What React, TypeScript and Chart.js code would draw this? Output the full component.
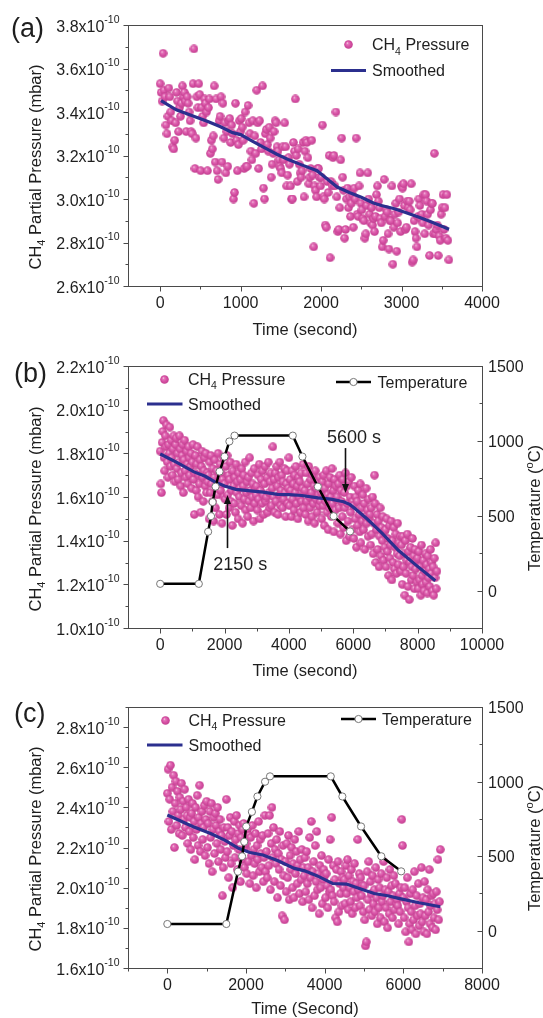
import React, { useEffect, useRef } from "react";
import { Chart, registerables } from "chart.js";

Chart.register(...registerables);

const FONT = '"Liberation Sans", Arial, Helvetica, sans-serif';
const AXIS_COLOR = "#4a4a4a";
const TEXT_COLOR = "#1e1e1e";
const NAVY = "#2b2f8e";

// ---------------- Panel (a) ----------------
const timeStepA = 12; // s between CH4 samples
// CH4 partial pressure, in units of 1e-12 mbar
const pressureA = [
  353, 349, 345, 367, 350, 347, 334, 330, 338, 351, 347, 340, 336, 324, 323, 327, 335, 349, 345, 331, 342, 338, 344, 352, 347,
  349, 345, 331, 347, 344, 340, 336, 331, 330, 353, 369, 314, 328, 347, 342, 353, 348, 313, 342, 338, 335, 346, 344, 340, 313,
  342, 346, 321, 327, 323, 329, 352, 317, 346, 313, 309, 336, 338, 347, 317, 344, 328, 335, 312, 331, 315, 336, 337, 326, 334,
  330, 300, 303, 344, 327, 313, 325, 336, 331, 337, 333, 327, 314, 340, 315, 315, 343, 335, 330, 322, 318, 336, 298, 329, 321,
  350, 335, 314, 336, 326, 323, 352, 305, 300, 330, 332, 325, 322, 333, 328, 310, 316, 321, 331, 336, 335, 324, 322, 318, 315,
  314, 312, 324, 318, 335, 324, 306, 311, 319, 316, 306, 300, 300, 326, 322, 346, 320, 308, 323, 316, 312, 310, 313, 326, 301,
  322, 327, 326, 319, 307, 310, 314, 327, 311, 278, 306, 304, 301, 314, 314, 310, 306, 310, 334, 301, 300, 288, 287, 308, 303,
  320, 273, 308, 306, 319, 320, 306, 340, 301, 285, 286, 296, 318, 328, 310, 304, 282, 286, 300, 305, 296, 301, 292, 298, 302,
  287, 305, 300, 328, 293, 292, 306, 312, 298, 295, 291, 290, 282, 284, 297, 312, 300, 293, 289, 296, 288, 291, 285, 292, 302,
  306, 299, 296, 291, 289, 278, 281, 309, 292, 295, 294, 284, 277, 290, 290, 306, 270, 287, 293, 298, 276, 289, 294, 300, 285,
  306, 305, 307, 297, 286, 287, 299, 296, 299, 295, 307, 271, 272, 290, 285, 282, 278, 292, 300, 297, 291, 293, 289, 302, 284,
  302, 299, 293, 288, 274, 295, 298, 298, 284, 321, 284, 286, 288, 274, 283, 281, 293, 296, 302, 286, 296, 282, 302, 281, 272,
];
const smoothTimeA = [10, 200, 450, 600, 750, 900, 1000, 1150, 1300, 1450, 1600, 1750, 1950, 2100, 2200, 2350, 2500, 2650, 2750, 2900, 3050, 3200, 3350, 3500, 3590];
const smoothA = [345.2, 341, 337.6, 335.5, 333.2, 330.5, 329.6, 326.5, 323.5, 320.6, 318, 315.8, 313, 308.5, 305.5, 303, 300.8, 298.2, 297, 295.6, 293.8, 291.8, 289.8, 287.5, 286.1];
const xTicksA = [0, 1000, 2000, 3000, 4000];
const xMinorA = [500, 1500, 2500, 3500];
const yTicksA = [260, 280, 300, 320, 340, 360, 380];
const yMinorA = [270, 290, 310, 330, 350, 370];

// ---------------- Panel (b) ----------------
const timeStepB = 20; // s
const pressureB = [
  181, 166, 162, 185, 190, 195, 178, 172, 188, 183, 193, 176, 169, 184, 180, 192, 174, 186, 178, 170, 182, 188, 175, 167, 184,
  187, 173, 180, 168, 176, 188, 182, 165, 171, 179, 184, 162, 177, 186, 172, 169, 181, 175, 166, 183, 178, 170, 174, 180, 164,
  176, 184, 168, 152, 171, 179, 163, 175, 183, 160, 170, 166, 177, 153, 174, 181, 169, 158, 172, 178, 165, 180, 162, 171, 167,
  170, 150, 176, 162, 179, 166, 158, 173, 149, 169, 177, 155, 164, 172, 161, 180, 167, 152, 175, 163, 171, 148, 168, 178, 160,
  166, 159, 174, 152, 179, 161, 170, 155, 168, 176, 158, 163, 147, 172, 165, 157, 169, 153, 175, 162, 167, 150, 171, 160, 164,
  168, 156, 173, 148, 165, 170, 159, 176, 154, 162, 167, 151, 169, 158, 178, 163, 155, 171, 160, 166, 149, 173, 157, 164, 161,
  165, 154, 170, 159, 175, 150, 163, 168, 157, 172, 161, 152, 166, 174, 158, 160, 169, 153, 176, 162, 155, 167, 171, 156, 164,
  183, 160, 168, 153, 171, 158, 174, 165, 152, 169, 161, 176, 156, 163, 170, 155, 167, 159, 173, 162, 151, 166, 172, 157, 164,
  178, 156, 168, 163, 151, 172, 159, 166, 154, 170, 162, 174, 157, 165, 150, 169, 160, 167, 153, 171, 158, 164, 175, 155, 162,
  163, 152, 171, 158, 166, 149, 174, 160, 155, 168, 162, 151, 170, 157, 165, 148, 172, 159, 164, 153, 167, 161, 156, 169, 158,
  162, 150, 167, 156, 170, 147, 164, 158, 172, 153, 161, 145, 166, 155, 169, 160, 151, 173, 157, 163, 144, 168, 154, 165, 159,
  160, 148, 166, 155, 170, 143, 163, 158, 151, 168, 146, 162, 155, 171, 140, 165, 157, 149, 167, 142, 160, 153, 169, 145, 158,
  156, 141, 165, 150, 160, 137, 158, 147, 163, 152, 144, 166, 139, 155, 149, 161, 145, 157, 136, 151, 164, 148, 154, 142, 159,
  150, 152, 138, 155, 143, 160, 134, 148, 170, 157, 130, 145, 152, 136, 149, 128, 142, 155, 133, 146, 140, 151, 131, 144, 137,
  145, 128, 150, 135, 141, 124, 147, 132, 138, 149, 122, 140, 130, 146, 127, 137, 143, 125, 134, 148, 129, 139, 133, 142, 126,
  138, 120, 142, 128, 134, 115, 140, 125, 131, 143, 119, 135, 113, 130, 137, 122, 128, 141, 124, 133, 118, 136, 127, 131, 121,
  132, 118, 135, 122, 128, 115, 138, 124, 120, 131, 117, 126, 134, 121, 129, 116, 133, 123, 127, 119, 136, 125, 130, 117, 128,
  115, 132, 123, 139, 118, 126,
];
const smoothTimeB = [0, 500, 1050, 1400, 1700, 2000, 2350, 2800, 3200, 3650, 4000, 4400, 4900, 5300, 5700, 5900, 6050, 6450, 6900, 7400, 7950, 8550];
const smoothB = [179.7, 176, 171.5, 169.5, 166.9, 165, 163.5, 162.8, 162.2, 161.2, 161.1, 160.7, 159.6, 159, 157.8, 156.5, 154.7, 149.7, 143.3, 135.6, 128.8, 121.6];
const tempTimeB = [0, 1200, 1490, 1580, 1630, 1720, 1845, 2000, 2150, 2310, 4120, 4420, 4900, 5390, 5900];
const tempB = [45, 45, 393, 497, 591, 694, 795, 895, 996, 1035, 1035, 895, 694, 497, 395];
const xTicksB = [0, 2000, 4000, 6000, 8000, 10000];
const xMinorB = [1000, 3000, 5000, 7000, 9000];
const yTicksB = [100, 120, 140, 160, 180, 200, 220];
const yMinorB = [110, 130, 150, 170, 190, 210];
const tTicks = [0, 500, 1000, 1500];
const tMinor = [250, 750, 1250];

// ---------------- Panel (c) ----------------
const timeStepC = 20; // s
const pressureC = [
  247, 259, 233, 244, 261, 229, 250, 238, 256, 220, 242, 253, 231, 248, 236, 227, 245, 239, 252, 226, 243, 234, 249, 230, 240,
  236, 222, 244, 228, 235, 219, 237, 242, 225, 233, 214, 240, 229, 246, 221, 235, 251, 218, 232, 238, 224, 230, 241, 216, 234,
  243, 220, 232, 212, 238, 225, 242, 208, 229, 235, 217, 237, 231, 222, 240, 213, 228, 234, 219, 226, 196, 210, 230, 223, 215,
  244, 218, 230, 205, 226, 235, 212, 228, 200, 221, 233, 215, 224, 236, 209, 227, 219, 231, 203, 225, 214, 229, 232, 210, 220,
  222, 207, 229, 213, 226, 202, 225, 216, 231, 206, 219, 212, 227, 200, 221, 214, 233, 208, 224, 217, 210, 226, 203, 215, 236,
  208, 218, 205, 227, 211, 236, 199, 222, 240, 215, 230, 203, 219, 212, 224, 195, 217, 209, 228, 201, 214, 186, 221, 206, 184,
  213, 198, 222, 205, 226, 194, 216, 209, 220, 200, 212, 195, 224, 207, 218, 202, 211, 228, 197, 214, 204, 219, 193, 210, 206,
  215, 198, 218, 202, 210, 194, 225, 205, 233, 190, 208, 213, 196, 221, 203, 228, 199, 207, 187, 211, 200, 216, 192, 204, 209,
  206, 195, 207, 201, 190, 214, 198, 224, 199, 235, 196, 211, 193, 204, 185, 209, 183, 213, 188, 202, 197, 208, 191, 205, 200,
  204, 192, 211, 197, 214, 189, 206, 200, 193, 209, 187, 203, 198, 212, 190, 202, 195, 224, 199, 207, 191, 205, 196, 201, 188,
  201, 184, 171, 173, 208, 194, 213, 189, 203, 197, 186, 206, 192, 199, 188, 210, 195, 182, 204, 190, 200, 185, 207, 193, 196,
  213, 183, 199, 190, 205, 180, 198, 187, 209, 193, 201, 185, 196, 206, 189, 202, 192, 194, 191, 182, 197, 188, 200, 234, 221,
  195, 185, 200, 178, 193, 205, 190, 173, 182, 197, 188, 179, 199, 184, 208, 191, 177, 196, 186, 202, 181, 192, 187, 210, 183,
  195, 178, 203, 186, 194, 177, 199, 188, 209, 182, 191, 196, 180, 197, 185, 192, 179, 198, 189, 214, 184, 193, 219,
];
const smoothTimeC = [0, 660, 1100, 1460, 1810, 2100, 2430, 2800, 3230, 3490, 3800, 4200, 4555, 4900, 5260, 5600, 5880, 6400, 6940];
const smoothC = [236.2, 230.4, 227, 223.7, 219.6, 217.5, 216.3, 213.5, 209.6, 208.4, 206, 202.1, 201.8, 199.5, 197.1, 196, 194.7, 192.5, 190.5];
const tempTimeC = [0, 1500, 1795, 1900, 1955, 2005, 2150, 2290, 2485, 2610, 4155, 4450, 4925, 5440, 5945];
const tempC = [45, 45, 396, 499, 596, 699, 797, 900, 999, 1035, 1035, 900, 699, 499, 398];
const xTicksC = [0, 2000, 4000, 6000, 8000];
const xMinorC = [-1000, 1000, 3000, 5000, 7000];
const yTicksC = [160, 180, 200, 220, 240, 260, 280];
const yMinorC = [170, 190, 210, 230, 250, 270, 290];

// ---------------- helpers ----------------
type Part = { t: string; size: number; dy?: number };

function drawRich(ctx: CanvasRenderingContext2D, parts: Part[], x: number, y: number, align: "left" | "center" | "right") {
  let w = 0;
  for (const p of parts) {
    ctx.font = `${p.size}px ${FONT}`;
    w += ctx.measureText(p.t).width;
  }
  let cx = align === "left" ? x : align === "center" ? x - w / 2 : x - w;
  ctx.textAlign = "left";
  ctx.textBaseline = "alphabetic";
  for (const p of parts) {
    ctx.font = `${p.size}px ${FONT}`;
    ctx.fillText(p.t, cx, y + (p.dy || 0));
    cx += ctx.measureText(p.t).width;
  }
}

const SPRITE = 9;
function makeSprite(): HTMLCanvasElement {
  const c = document.createElement("canvas");
  c.width = SPRITE;
  c.height = SPRITE;
  const g = c.getContext("2d")!;
  const r = SPRITE / 2;
  const grad = g.createRadialGradient(r * 0.72, r * 0.66, 0.2, r, r, r);
  grad.addColorStop(0, "#f7cde6");
  grad.addColorStop(0.2, "#e479bb");
  grad.addColorStop(0.55, "#d852a6");
  grad.addColorStop(1, "#c13f8e");
  g.fillStyle = grad;
  g.beginPath();
  g.arc(r, r, r - 0.2, 0, Math.PI * 2);
  g.fill();
  return c;
}

type Arrow = { x: number; tail: number; tip: number; text: string; tx: number; ty: number };

type Decor = {
  label: string;
  labelX: number;
  labelY: number;
  xTicks: number[];
  xMinor: number[];
  yTicks: number[];
  yMinor: number[];
  y2Ticks?: number[];
  y2Minor?: number[];
  xTitle: string;
  xTitleOffset: number;
  yTitleCenter: number;
  y2TitleCenter?: number;
  legPressure: [number, number, number];
  legSmooth: [number, number, number, number];
  legTemp?: [number, number, number, number];
  arrows?: Arrow[];
};

type PanelCfg = {
  height: number;
  padding: { left: number; right: number; top: number; bottom: number };
  xMin: number;
  xMax: number;
  yMin: number;
  yMax: number;
  hasTemp: boolean;
  timeStep: number;
  pressure: number[];
  smoothTime: number[];
  smooth: number[];
  tempTime?: number[];
  temp?: number[];
  decor: Decor;
};

function decorPlugin(d: Decor, sprite: HTMLCanvasElement) {
  return {
    id: "decor",
    afterDraw(chart: any) {
      const ctx = chart.ctx as CanvasRenderingContext2D;
      const { left, right, top, bottom } = chart.chartArea;
      const xs = chart.scales.x;
      const ys = chart.scales.y;
      const y2 = chart.scales.y2;
      const L = Math.round(left) + 0.5;
      const R = Math.round(right) + 0.5;
      const T = Math.round(top) + 0.5;
      const B = Math.round(bottom) + 0.5;
      ctx.save();
      ctx.strokeStyle = AXIS_COLOR;
      ctx.lineWidth = 1;
      ctx.strokeRect(L, T, R - L, B - T);
      const seg = (x1: number, y1: number, x2: number, yy2: number) => {
        ctx.beginPath();
        ctx.moveTo(x1, y1);
        ctx.lineTo(x2, yy2);
        ctx.stroke();
      };
      const px = (v: number) => Math.round(xs.getPixelForValue(v)) + 0.5;
      const py = (v: number) => Math.round(ys.getPixelForValue(v)) + 0.5;
      for (const v of d.xTicks) seg(px(v), B, px(v), B + 5);
      for (const v of d.xMinor) seg(px(v), B, px(v), B + 3);
      for (const v of d.yTicks) seg(L - 5, py(v), L, py(v));
      for (const v of d.yMinor) seg(L - 3, py(v), L, py(v));
      if (y2 && d.y2Ticks) {
        const p2 = (v: number) => Math.round(y2.getPixelForValue(v)) + 0.5;
        for (const v of d.y2Ticks) seg(R - 5, p2(v), R, p2(v));
        for (const v of d.y2Minor || []) seg(R - 3, p2(v), R, p2(v));
      }

      ctx.fillStyle = TEXT_COLOR;
      // x tick labels
      ctx.font = `16px ${FONT}`;
      ctx.textAlign = "center";
      ctx.textBaseline = "alphabetic";
      for (const v of d.xTicks) ctx.fillText(String(v), xs.getPixelForValue(v), bottom + 22);
      // y tick labels
      for (const v of d.yTicks) {
        const y = ys.getPixelForValue(v);
        drawRich(ctx, [
          { t: (v / 100).toFixed(1) + "x10", size: 16 },
          { t: "-10", size: 10.5, dy: -9 },
        ], left - 8.5, y + 6.5, "right");
      }
      if (y2 && d.y2Ticks) {
        ctx.font = `16px ${FONT}`;
        ctx.textAlign = "left";
        for (const v of d.y2Ticks) ctx.fillText(String(v), right + 6, y2.getPixelForValue(v) + 6);
      }
      // x title
      ctx.font = `16.5px ${FONT}`;
      ctx.textAlign = "center";
      ctx.fillText(d.xTitle, (left + right) / 2, bottom + d.xTitleOffset);
      // y title
      ctx.save();
      ctx.translate(40.5, d.yTitleCenter);
      ctx.rotate(-Math.PI / 2);
      drawRich(ctx, [
        { t: "CH", size: 16.5 },
        { t: "4", size: 11, dy: 4 },
        { t: " Partial Pressure (mbar)", size: 16.5 },
      ], 0, 0, "center");
      ctx.restore();
      if (y2 && d.y2TitleCenter !== undefined) {
        ctx.save();
        ctx.translate(539.5, d.y2TitleCenter);
        ctx.rotate(-Math.PI / 2);
        drawRich(ctx, [
          { t: "Temperature (", size: 16.5 },
          { t: "o", size: 11, dy: -7 },
          { t: "C)", size: 16.5 },
        ], 0, 0, "center");
        ctx.restore();
      }
      // panel label
      ctx.font = `27px ${FONT}`;
      ctx.textAlign = "left";
      ctx.fillText(d.label, d.labelX, d.labelY);

      // legend
      const [mx, my, mtx] = d.legPressure;
      ctx.drawImage(sprite, Math.round(mx - SPRITE / 2), Math.round(my - SPRITE / 2));
      drawRich(ctx, [
        { t: "CH", size: 16 },
        { t: "4", size: 10.5, dy: 4.5 },
        { t: " Pressure", size: 16 },
      ], mtx, my + 5.8, "left");
      const [sx1, sx2, sy, stx] = d.legSmooth;
      ctx.strokeStyle = NAVY;
      ctx.lineWidth = 3.2;
      seg(sx1, sy, sx2, sy);
      ctx.font = `16px ${FONT}`;
      ctx.fillText("Smoothed", stx, sy + 5.8);
      if (d.legTemp) {
        const [tx1, tx2, ty, ttx] = d.legTemp;
        ctx.strokeStyle = "#000";
        ctx.lineWidth = 2.5;
        seg(tx1, ty, tx2, ty);
        ctx.beginPath();
        ctx.arc((tx1 + tx2) / 2, ty, 3.6, 0, Math.PI * 2);
        ctx.fillStyle = "#fff";
        ctx.fill();
        ctx.lineWidth = 1;
        ctx.strokeStyle = "#777";
        ctx.stroke();
        ctx.fillStyle = TEXT_COLOR;
        ctx.font = `16px ${FONT}`;
        ctx.fillText("Temperature", ttx, ty + 5.8);
      }
      // annotations
      for (const a of d.arrows || []) {
        const ax = Math.round(xs.getPixelForValue(a.x)) + 0.5;
        const yTail = ys.getPixelForValue(a.tail);
        const yTip = ys.getPixelForValue(a.tip);
        const dir = yTip > yTail ? 1 : -1;
        ctx.strokeStyle = "#111";
        ctx.lineWidth = 1.6;
        seg(ax, yTail, ax, yTip - dir * 8);
        ctx.fillStyle = "#111";
        ctx.beginPath();
        ctx.moveTo(ax, yTip);
        ctx.lineTo(ax - 3.5, yTip - dir * 9);
        ctx.lineTo(ax + 3.5, yTip - dir * 9);
        ctx.closePath();
        ctx.fill();
        ctx.fillStyle = TEXT_COLOR;
        ctx.font = `18px ${FONT}`;
        ctx.textAlign = "center";
        ctx.fillText(a.text, xs.getPixelForValue(a.tx), ys.getPixelForValue(a.ty) + 6.5);
      }
      ctx.restore();
    },
  };
}

function buildConfig(cfg: PanelCfg, sprite: HTMLCanvasElement): any {
  const datasets: any[] = [
    {
      label: "CH4 Pressure",
      data: cfg.pressure.map((p, i) => ({ x: i * cfg.timeStep, y: p })),
      pointStyle: sprite,
      pointRadius: 4.5,
      showLine: false,
      order: 3,
    },
    {
      label: "Smoothed",
      data: cfg.smoothTime.map((t, i) => ({ x: t, y: cfg.smooth[i] })),
      showLine: true,
      borderColor: NAVY,
      borderWidth: 3.2,
      pointRadius: 0,
      tension: 0,
      order: 2,
    },
  ];
  if (cfg.hasTemp && cfg.tempTime && cfg.temp) {
    const temp = cfg.temp;
    datasets.push({
      label: "Temperature",
      data: cfg.tempTime.map((t, i) => ({ x: t, y: temp[i] })),
      yAxisID: "y2",
      showLine: true,
      borderColor: "#000",
      borderWidth: 2.5,
      pointRadius: 3.6,
      pointBackgroundColor: "#fff",
      pointBorderColor: "#777",
      pointBorderWidth: 1,
      tension: 0,
      order: 1,
    });
  }
  const scales: any = {
    x: { type: "linear", min: cfg.xMin, max: cfg.xMax, display: false },
    y: { type: "linear", min: cfg.yMin, max: cfg.yMax, display: false },
  };
  if (cfg.hasTemp) scales.y2 = { type: "linear", position: "right", min: -250, max: 1500, display: false };
  return {
    type: "scatter",
    data: { datasets },
    options: {
      responsive: false,
      animation: false,
      events: [],
      layout: { padding: cfg.padding },
      plugins: { legend: { display: false }, tooltip: { enabled: false }, title: { display: false } },
      scales,
    },
    plugins: [decorPlugin(cfg.decor, sprite)],
  };
}

const panelA: PanelCfg = {
  height: 340,
  padding: { left: 128, right: 61, top: 25, bottom: 54 },
  xMin: -400,
  xMax: 4000,
  yMin: 260,
  yMax: 380,
  hasTemp: false,
  timeStep: timeStepA,
  pressure: pressureA,
  smoothTime: smoothTimeA,
  smooth: smoothA,
  decor: {
    label: "(a)",
    labelX: 11,
    labelY: 37,
    xTicks: xTicksA,
    xMinor: xMinorA,
    yTicks: yTicksA,
    yMinor: yMinorA,
    xTitle: "Time (second)",
    xTitleOffset: 49,
    yTitleCenter: 167,
    legPressure: [348, 44.5, 372],
    legSmooth: [331, 366, 70.5, 372],
  },
};

const panelB: PanelCfg = {
  height: 340,
  padding: { left: 128, right: 61, top: 26, bottom: 52 },
  xMin: -1000,
  xMax: 10000,
  yMin: 100,
  yMax: 220,
  hasTemp: true,
  timeStep: timeStepB,
  pressure: pressureB,
  smoothTime: smoothTimeB,
  smooth: smoothB,
  tempTime: tempTimeB,
  temp: tempB,
  decor: {
    label: "(b)",
    labelX: 14,
    labelY: 42,
    xTicks: xTicksB,
    xMinor: xMinorB,
    yTicks: yTicksB,
    yMinor: yMinorB,
    y2Ticks: tTicks,
    y2Minor: tMinor,
    xTitle: "Time (second)",
    xTitleOffset: 48,
    yTitleCenter: 169,
    y2TitleCenter: 168,
    legPressure: [164.5, 39, 188],
    legSmooth: [147, 182.5, 64, 188],
    legTemp: [336, 371, 42, 377.5],
    arrows: [
      { x: 5750, tail: 182.4, tip: 161.8, text: "5600 s", tx: 6020, ty: 187.9 },
      { x: 2070, tail: 136.6, tip: 160.9, text: "2150 s", tx: 2490, ty: 129.7 },
    ],
  },
};

const panelC: PanelCfg = {
  height: 338,
  padding: { left: 128, right: 61, top: 27, bottom: 50 },
  xMin: -1000,
  xMax: 8000,
  yMin: 160,
  yMax: 290,
  hasTemp: true,
  timeStep: timeStepC,
  pressure: pressureC,
  smoothTime: smoothTimeC,
  smooth: smoothC,
  tempTime: tempTimeC,
  temp: tempC,
  decor: {
    label: "(c)",
    labelX: 14,
    labelY: 42,
    xTicks: xTicksC,
    xMinor: xMinorC,
    yTicks: yTicksC,
    yMinor: yMinorC,
    y2Ticks: tTicks,
    y2Minor: tMinor,
    xTitle: "Time (Second)",
    xTitleOffset: 46,
    yTitleCenter: 169,
    y2TitleCenter: 168,
    legPressure: [165, 40, 188.5],
    legSmooth: [147, 182.5, 65, 188.5],
    legTemp: [341, 376, 39, 382],
  },
};

function Panel({ cfg }: { cfg: PanelCfg }) {
  const ref = useRef<HTMLCanvasElement>(null);
  useEffect(() => {
    const canvas = ref.current;
    if (!canvas) return;
    const sprite = makeSprite();
    const chart = new Chart(canvas, buildConfig(cfg, sprite));
    return () => chart.destroy();
  }, [cfg]);
  return (
    <canvas
      ref={ref}
      width={543}
      height={cfg.height}
      style={{ display: "block", width: 543, height: cfg.height }}
    />
  );
}

export default function App() {
  return (
    <div
      style={{
        position: "absolute",
        left: 0,
        top: 0,
        width: 543,
        height: 1018,
        background: "#fff",
        overflow: "hidden",
      }}
    >
      <Panel cfg={panelA} />
      <Panel cfg={panelB} />
      <Panel cfg={panelC} />
    </div>
  );
}
